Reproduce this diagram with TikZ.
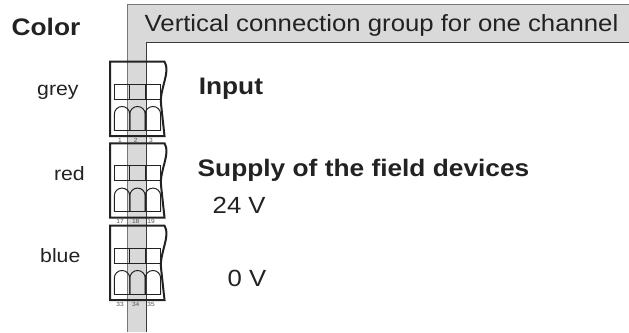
\documentclass[tikz,border=0pt]{standalone}
\usepackage{fontspec}
\setmainfont{Liberation Sans}[FakeStretch=1.1]
\definecolor{stripfill}{HTML}{D9D9D9}
\definecolor{stripline}{HTML}{777777}
\definecolor{stripinner}{HTML}{3A3A3A}
\definecolor{ink}{HTML}{222222}
\definecolor{numink}{HTML}{555555}
\begin{document}
\begin{tikzpicture}[x=1pt,y=-1pt,
  lab/.style={inner sep=0pt,anchor=base west,text=ink},
  big/.style={lab,font=\fontsize{23.4}{28}\selectfont},
  bigbold/.style={lab,font=\bfseries\fontsize{23.9}{28}\selectfont},
  small/.style={lab,font=\fontsize{19.3}{23}\selectfont},
  num/.style={inner sep=0pt,anchor=center,text=numink,font=\fontsize{6}{7}\selectfont},
  boxline/.style={draw=ink,line width=2pt,line join=miter},
  thinline/.style={draw=ink,line width=1pt}]
\useasboundingbox (0,0) rectangle (629,332);
% grey L-shaped band
\fill[stripfill] (127.8,4.7) -- (629,4.7) -- (629,42.3) -- (146.7,42.3) -- (146.7,332) -- (127.8,332) -- cycle;
\draw[stripline,line width=0.9pt] (629,4.7) -- (127.8,4.7) -- (127.8,332);
\draw[stripinner,line width=0.9pt] (629,42.3) -- (146.7,42.3) -- (146.7,332);
% connector blocks
\foreach \T/\a/\b/\c/\n in {61.7/1/2/3/one,143.3/17/18/19/two,225.7/33/34/35/three}{
  \begin{scope}[shift={(0,\T)}]
    \draw[boxline] (110,0) -- (164.5,0) .. controls (171,10) and (159.5,27) .. (161,42) -- (164.5,74.3) -- (110,74.3) -- cycle;
    \draw[thinline] (114.3,22.3) rectangle (160.7,37.6);
    \draw[thinline] (129.8,22.3) -- (129.8,37.6) (145.2,22.3) -- (145.2,37.6);
    \foreach \xl in {114.3,129.8,145.2}{
      \draw[thinline] (\xl,68.3) -- (\xl,52.5) arc[start angle=180,end angle=360,radius=7.73] -- (\xl+15.46,68.3);
    }
    \draw[thinline] (114.3,68.3) -- (160.7,68.3);
    \node[num] (n\n a) at (120,78.3) {\a};
    \node[num] (n\n b) at (135.7,78.3) {\b};
    \node[num] (n\n c) at (151,78.3) {\c};
  \end{scope}
}
% texts
\node[bigbold] (color) at (11.5,35) {Color};
\node[big] (title) at (144.5,31.7) {Vertical connection group for one channel};
\node[small] (grey) at (37,95) {grey};
\node[small] (red) at (53.8,180.7) {red};
\node[small] (blue) at (40,262.7) {blue};
\node[bigbold] (input) at (198.6,94) {Input};
\node[bigbold] (supply) at (197.5,176) {Supply of the field devices};
\node[big] (v24) at (212.5,213.3) {24 V};
\node[big] (v0) at (227.5,286.7) {0 V};
\end{tikzpicture}
\end{document}
